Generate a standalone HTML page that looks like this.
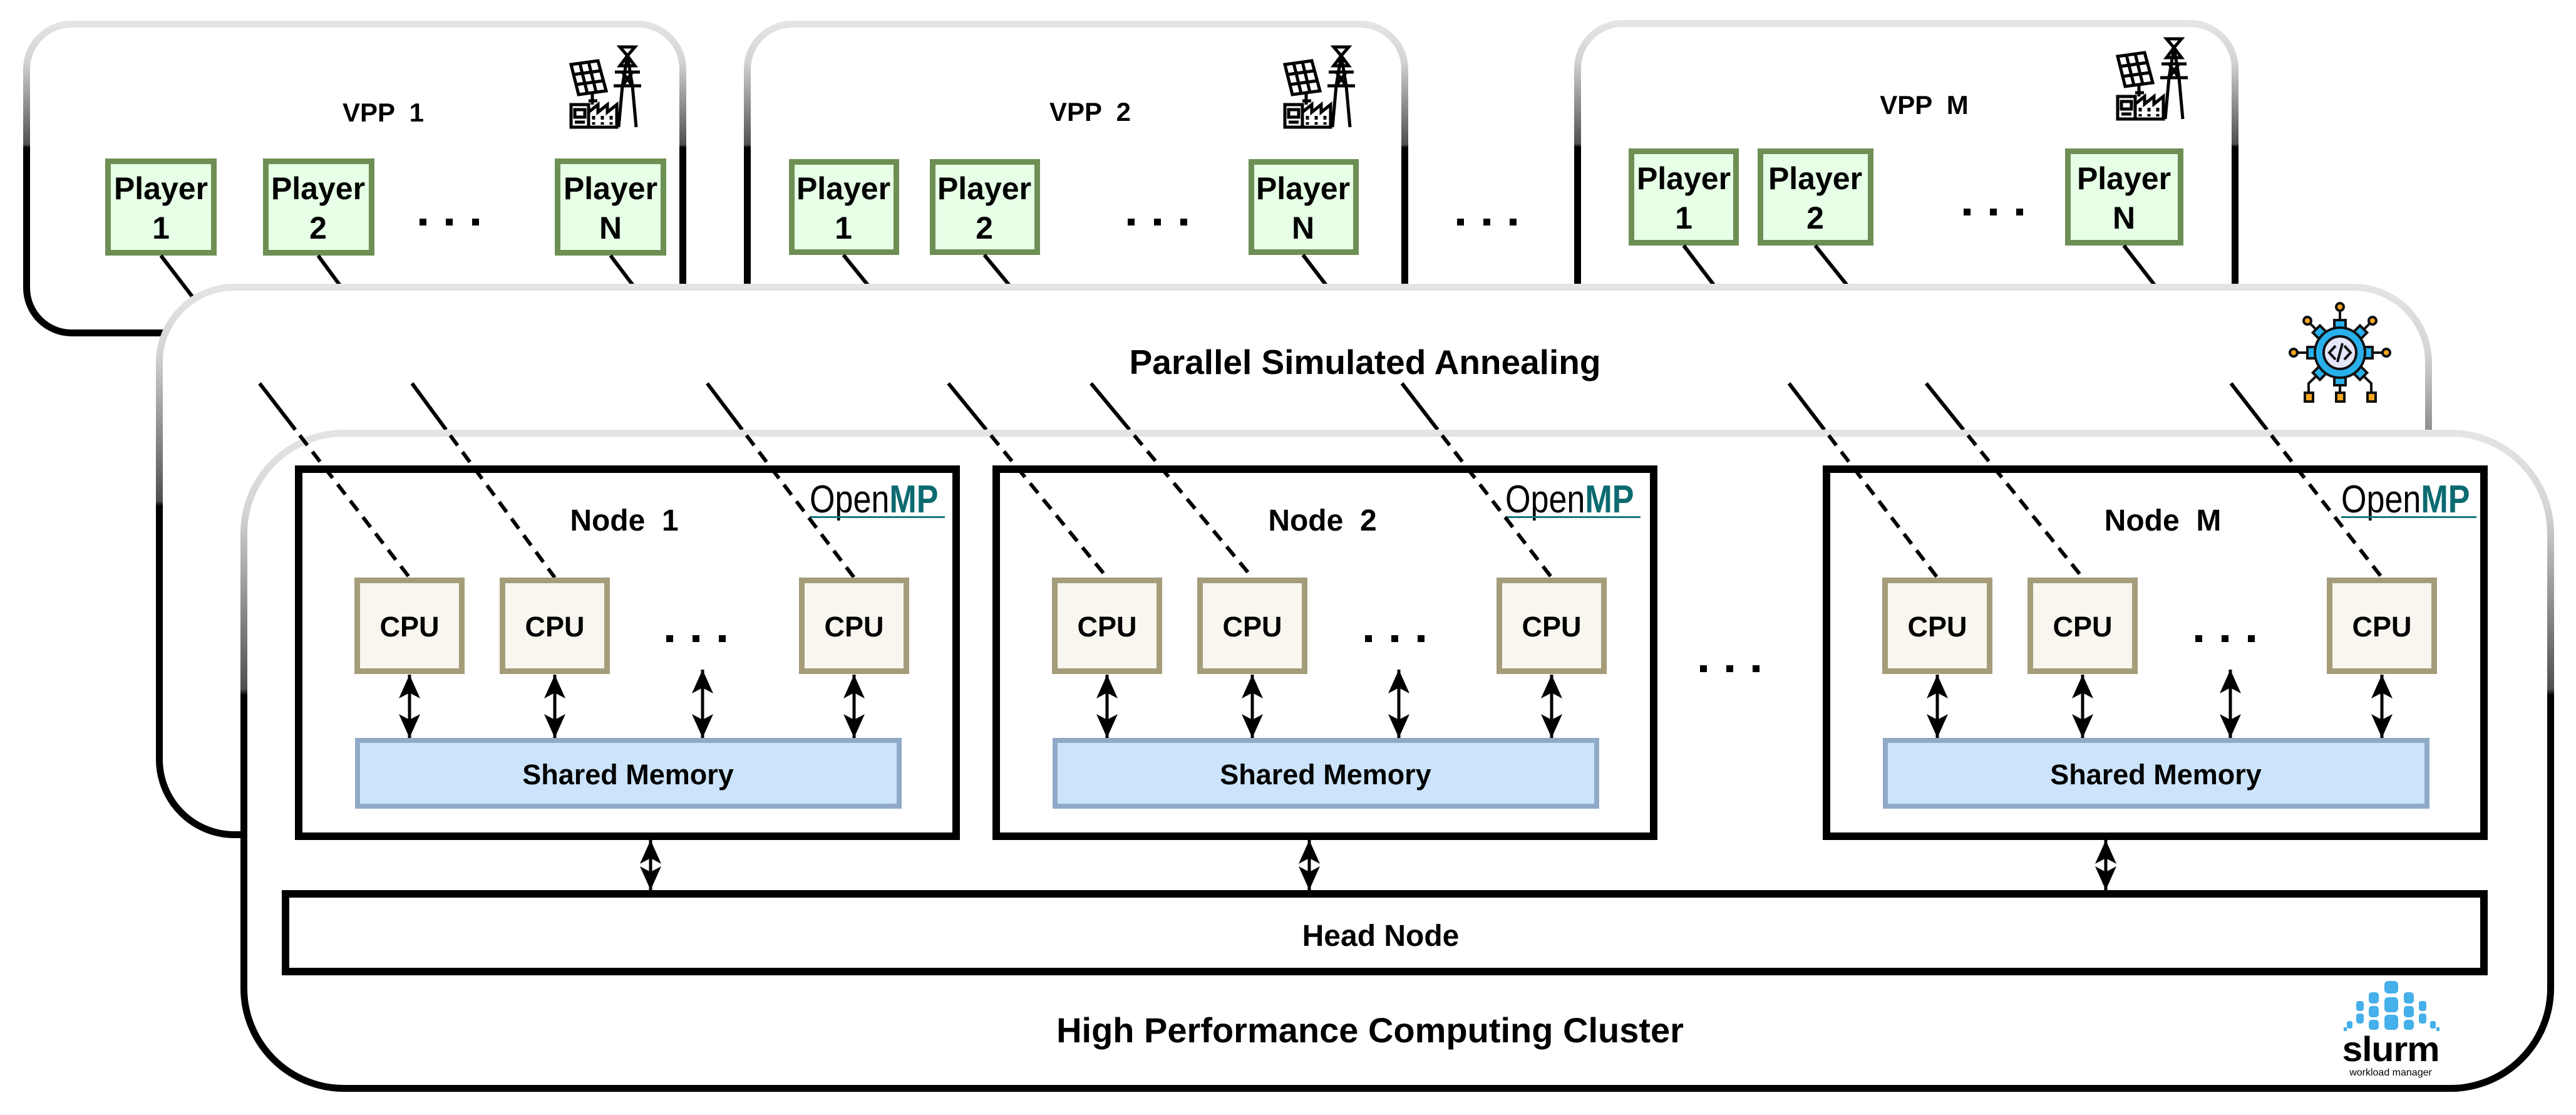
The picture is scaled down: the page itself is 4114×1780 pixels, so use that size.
<!DOCTYPE html>
<html><head><meta charset="utf-8"><style>
html,body{margin:0;padding:0;background:#fff;}
svg{display:block;}
text{font-family:"Liberation Sans",Arial,sans-serif;font-weight:bold;fill:#000;}
</style></head><body>
<svg width="4114" height="1780" viewBox="0 0 4114 1780" xmlns="http://www.w3.org/2000/svg">
<defs>
<linearGradient id="g" x1="0" y1="0" x2="0" y2="1">
<stop offset="0" stop-color="#e4e4e4"/><stop offset="0.12" stop-color="#d4d4d4"/>
<stop offset="0.39" stop-color="#505050"/><stop offset="0.40" stop-color="#000"/><stop offset="1" stop-color="#000"/>
</linearGradient>
<marker id="ah" viewBox="0 0 38 34" refX="38" refY="17" markerWidth="38" markerHeight="34" markerUnits="userSpaceOnUse" orient="auto-start-reverse">
<path d="M0,0 L38,17 L0,34 L9,17 Z" fill="#000"/>
</marker>
<g id="vicon" fill="none" stroke="#000" stroke-width="5">
<path d="M2,28 L45,22 L58,70 L14,76 Z M6,44 L49,38 M10,60 L53,54 M16,26 L28,74 M30,24 L42,72"/>
<path d="M36,72 L36,92 M30,86 L44,86"/>
<path d="M2,92 L30,92 L30,128 L2,128 Z M30,128 L30,104 L45,92 L45,104 L60,92 L60,104 L75,92 L75,128 L2,128 M8,100 L24,100 L24,112 L8,112 Z M8,120 L24,120" />
<path d="M38,110 L38,116 M52,110 L52,116 M66,110 L66,116 M38,120 L38,124 M52,120 L52,124 M66,120 L66,124"/>
<path d="M80,0 L104,0 L92,14 Z M92,14 L80,30 L104,30 Z M72,40 L112,40 M70,62 L114,62 M92,14 L84,62 L78,128 M92,14 L100,62 L106,128 M84,62 L100,40 M100,62 L84,40"/>
</g>
</defs>

<!-- VPP boxes -->
<rect x="42.5" y="38.5" width="1048" height="493" rx="72" fill="#fff" stroke="url(#g)" stroke-width="11"/>
<rect x="1193.5" y="38.5" width="1050" height="493" rx="72" fill="#fff" stroke="url(#g)" stroke-width="11"/>
<rect x="2519.5" y="37.5" width="1050" height="493" rx="72" fill="#fff" stroke="url(#g)" stroke-width="11"/>

<g font-size="42" text-anchor="middle">
<text x="612" y="194" xml:space="preserve">VPP  1</text>
<text x="1741" y="193" xml:space="preserve">VPP  2</text>
<text x="3073" y="182" xml:space="preserve">VPP  M</text>
</g>

<use href="#vicon" transform="translate(910,75)"/>
<use href="#vicon" transform="translate(2050,75)"/>
<use href="#vicon" transform="translate(3380,62)"/>

<!-- players -->
<g fill="#e6ffe6" stroke="#6d8f53" stroke-width="9">
<rect x="172.5" y="257.5" width="169" height="146"/>
<rect x="424.5" y="257.5" width="169" height="146"/>
<rect x="890.5" y="257.5" width="169" height="146"/>
<rect x="1264.5" y="258.5" width="167" height="144"/>
<rect x="1489.5" y="258.5" width="167" height="144"/>
<rect x="1998.5" y="258.5" width="167" height="144"/>
<rect x="2605.5" y="241.5" width="167" height="146"/>
<rect x="2811.5" y="241.5" width="176" height="146"/>
<rect x="3302.5" y="241.5" width="180" height="146"/>
</g>
<g font-size="50" text-anchor="middle">
<text x="257" y="318">Player</text><text x="257" y="381">1</text>
<text x="508" y="318">Player</text><text x="508" y="381">2</text>
<text x="975" y="318">Player</text><text x="975" y="381">N</text>
<text x="1347" y="318">Player</text><text x="1347" y="381">1</text>
<text x="1572" y="318">Player</text><text x="1572" y="381">2</text>
<text x="2081" y="318">Player</text><text x="2081" y="381">N</text>
<text x="2689" y="302">Player</text><text x="2689" y="365">1</text>
<text x="2899" y="302">Player</text><text x="2899" y="365">2</text>
<text x="3392" y="302">Player</text><text x="3392" y="365">N</text>
</g>
<!-- dots -->
<g fill="#000">
<rect x="670" y="349" width="11" height="11"/><rect x="712" y="349" width="11" height="11"/><rect x="754" y="349" width="11" height="11"/>
<rect x="1801" y="349" width="11" height="11"/><rect x="1843" y="349" width="11" height="11"/><rect x="1885" y="349" width="11" height="11"/>
<rect x="2327" y="349" width="11" height="11"/><rect x="2369" y="349" width="11" height="11"/><rect x="2411" y="349" width="11" height="11"/>
<rect x="3136" y="333" width="11" height="11"/><rect x="3178" y="333" width="11" height="11"/><rect x="3220" y="333" width="11" height="11"/>
</g>

<!-- line segments near players -->
<g stroke="#000" stroke-width="6">
<line x1="257" y1="408" x2="358" y2="540"/>
<line x1="508" y1="408" x2="605" y2="540"/>
<line x1="975" y1="408" x2="1075" y2="540"/>
<line x1="1347" y1="407" x2="1455" y2="540"/>
<line x1="1572" y1="407" x2="1682" y2="540"/>
<line x1="2081" y1="407" x2="2183" y2="540"/>
<line x1="2689" y1="392" x2="2802" y2="540"/>
<line x1="2899" y1="392" x2="3018" y2="540"/>
<line x1="3392" y1="392" x2="3507" y2="540"/>
</g>

<!-- PSA box -->
<rect x="254.5" y="458.5" width="3624" height="874" rx="120" fill="#fff" stroke="url(#g)" stroke-width="11"/>
<text x="2180" y="597" font-size="55" text-anchor="middle">Parallel Simulated Annealing</text>

<!-- gear icon -->
<g stroke="#111" stroke-width="4">
<line x1="3737" y1="490" x2="3737" y2="520"/>
<line x1="3685" y1="512" x2="3708" y2="535"/>
<line x1="3789" y1="512" x2="3766" y2="535"/>
<line x1="3663" y1="563" x2="3690" y2="563"/>
<line x1="3811" y1="563" x2="3784" y2="563"/>
<polyline fill="none" points="3708,592 3687,612 3687,630"/>
<polyline fill="none" points="3766,592 3787,612 3787,630"/>
<line x1="3737" y1="605" x2="3737" y2="630"/>
<g fill="#f5a623">
<circle cx="3737" cy="490" r="6"/><circle cx="3685" cy="512" r="6"/><circle cx="3789" cy="512" r="6"/>
<circle cx="3663" cy="563" r="6"/><circle cx="3811" cy="563" r="6"/>
<rect x="3681" y="627" width="13" height="14"/><rect x="3731" y="627" width="13" height="14"/><rect x="3781" y="627" width="13" height="14"/>
</g>
<g fill="#29b0ec">
<rect x="3728" y="511" width="18" height="16"/><rect x="3728" y="599" width="18" height="16"/>
<rect x="3685" y="554" width="16" height="18"/><rect x="3773" y="554" width="16" height="18"/>
<rect x="3697" y="523" width="16" height="16" transform="rotate(45 3705 531)"/>
<rect x="3761" y="523" width="16" height="16" transform="rotate(45 3769 531)"/>
<rect x="3697" y="587" width="16" height="16" transform="rotate(45 3705 595)"/>
<rect x="3761" y="587" width="16" height="16" transform="rotate(45 3769 595)"/>
<circle cx="3737" cy="563" r="40"/>
</g>
<circle cx="3737" cy="563" r="26" fill="#e6e6fa"/>
<path d="M3730,552 L3720,563 L3730,574 M3744,552 L3754,563 L3744,574 M3741,548 L3733,578" fill="none" stroke-width="4"/>
</g>

<!-- PSA line segments -->
<g stroke="#000" stroke-width="6">
<line x1="414.6" y1="612" x2="471.7" y2="686"/>
<line x1="658" y1="612" x2="712.4" y2="686"/>
<line x1="1129.4" y1="612" x2="1185.4" y2="686"/>
<line x1="1514.6" y1="612" x2="1575.1" y2="686"/>
<line x1="1742.4" y1="612" x2="1803.9" y2="686"/>
<line x1="2239" y1="612" x2="2296.1" y2="686"/>
<line x1="2857.1" y1="612" x2="2913.6" y2="686"/>
<line x1="3076.2" y1="612" x2="3135.8" y2="686"/>
<line x1="3563" y1="612" x2="3620.5" y2="686"/>
</g>

<!-- HPC box -->
<rect x="389.5" y="691.5" width="3684" height="1046" rx="160" fill="#fff" stroke="url(#g)" stroke-width="11"/>
<text x="2188" y="1664" font-size="56" text-anchor="middle">High Performance Computing Cluster</text>

<!-- Nodes -->
<g fill="none" stroke="#000" stroke-width="12">
<rect x="477" y="749" width="1050" height="586"/>
<rect x="1591" y="749" width="1050" height="586"/>
<rect x="2917" y="749" width="1050" height="586"/>
<rect x="456" y="1427" width="3511" height="124"/>
</g>
<g font-size="48" text-anchor="middle">
<text x="997" y="847" xml:space="preserve">Node  1</text>
<text x="2112" y="847" xml:space="preserve">Node  2</text>
<text x="3454" y="847" xml:space="preserve">Node  M</text>
<text x="2205" y="1510">Head Node</text>
</g>

<!-- OpenMP logos -->
<g fill="#14787f">
<text transform="translate(1293,818) scale(.84,1)" font-size="62" style="font-weight:normal"><tspan>Open</tspan><tspan style="font-weight:bold" fill="#0c6b71">MP</tspan></text>
<text transform="translate(2404,818) scale(.84,1)" font-size="62" style="font-weight:normal"><tspan>Open</tspan><tspan style="font-weight:bold" fill="#0c6b71">MP</tspan></text>
<text transform="translate(3739,818) scale(.84,1)" font-size="62" style="font-weight:normal"><tspan>Open</tspan><tspan style="font-weight:bold" fill="#0c6b71">MP</tspan></text>
<rect x="1293" y="824" width="216" height="3"/><rect x="2404" y="824" width="216" height="3"/><rect x="3739" y="824" width="216" height="3"/>
</g>

<!-- dashed segments -->
<g stroke="#000" stroke-width="6" stroke-dasharray="20 13">
<line x1="478.7" y1="695" x2="654" y2="922"/>
<line x1="719" y1="695" x2="886" y2="922"/>
<line x1="1192.2" y1="695" x2="1364" y2="922"/>
<line x1="1582.5" y1="695" x2="1768" y2="922"/>
<line x1="1811.4" y1="695" x2="2000" y2="922"/>
<line x1="2303" y1="695" x2="2478" y2="922"/>
<line x1="2920.5" y1="695" x2="3094" y2="922"/>
<line x1="3143" y1="695" x2="3326" y2="922"/>
<line x1="3627.5" y1="695" x2="3804" y2="922"/>
</g>

<!-- CPUs -->
<g fill="#f8f6ee" stroke="#a59c7a" stroke-width="9">
<rect x="570.5" y="926.5" width="167" height="145"/><rect x="802.5" y="926.5" width="167" height="145"/><rect x="1280.5" y="926.5" width="167" height="145"/>
<rect x="1684.5" y="926.5" width="167" height="145"/><rect x="1916.5" y="926.5" width="167" height="145"/><rect x="2394.5" y="926.5" width="167" height="145"/>
<rect x="3010.5" y="926.5" width="167" height="145"/><rect x="3242.5" y="926.5" width="167" height="145"/><rect x="3720.5" y="926.5" width="167" height="145"/>
</g>
<g font-size="45" text-anchor="middle">
<text x="654" y="1016">CPU</text><text x="886" y="1016">CPU</text><text x="1364" y="1016">CPU</text>
<text x="1768" y="1016">CPU</text><text x="2000" y="1016">CPU</text><text x="2478" y="1016">CPU</text>
<text x="3094" y="1016">CPU</text><text x="3326" y="1016">CPU</text><text x="3804" y="1016">CPU</text>
</g>
<g fill="#000">
<rect x="1064" y="1014" width="11" height="11"/><rect x="1106" y="1014" width="11" height="11"/><rect x="1148" y="1014" width="11" height="11"/>
<rect x="2180" y="1014" width="11" height="11"/><rect x="2222" y="1014" width="11" height="11"/><rect x="2264" y="1014" width="11" height="11"/>
<rect x="3506" y="1014" width="11" height="11"/><rect x="3548" y="1014" width="11" height="11"/><rect x="3590" y="1014" width="11" height="11"/>
<rect x="2715" y="1062" width="11" height="11"/><rect x="2757" y="1062" width="11" height="11"/><rect x="2799" y="1062" width="11" height="11"/>
</g>

<!-- Shared memory -->
<g fill="#cce4fb" stroke="#90a9c7" stroke-width="8">
<rect x="571" y="1182" width="865" height="105"/>
<rect x="1685" y="1182" width="865" height="105"/>
<rect x="3011" y="1182" width="865" height="105"/>
</g>
<g font-size="45" text-anchor="middle">
<text x="1003" y="1252">Shared Memory</text>
<text x="2117" y="1252">Shared Memory</text>
<text x="3443" y="1252">Shared Memory</text>
</g>

<!-- arrows -->
<g stroke="#000" stroke-width="5" marker-start="url(#ah)" marker-end="url(#ah)">
<line x1="654" y1="1077" x2="654" y2="1178"/><line x1="886" y1="1077" x2="886" y2="1178"/><line x1="1122" y1="1069" x2="1122" y2="1178"/><line x1="1364" y1="1077" x2="1364" y2="1178"/>
<line x1="1768" y1="1077" x2="1768" y2="1178"/><line x1="2000" y1="1077" x2="2000" y2="1178"/><line x1="2234" y1="1069" x2="2234" y2="1178"/><line x1="2478" y1="1077" x2="2478" y2="1178"/>
<line x1="3094" y1="1077" x2="3094" y2="1178"/><line x1="3326" y1="1077" x2="3326" y2="1178"/><line x1="3562" y1="1069" x2="3562" y2="1178"/><line x1="3804" y1="1077" x2="3804" y2="1178"/>
<line x1="1039" y1="1341" x2="1039" y2="1421"/><line x1="2091" y1="1341" x2="2091" y2="1421"/><line x1="3363" y1="1341" x2="3363" y2="1421"/>
</g>

<!-- slurm logo -->
<g fill="#45b0ea">
<rect x="3808" y="1566" width="22" height="20" rx="6"/>
<rect x="3783" y="1584" width="16" height="18" rx="5"/><rect x="3808" y="1592" width="22" height="24" rx="6"/><rect x="3839" y="1584" width="16" height="18" rx="5"/>
<rect x="3763" y="1598" width="12" height="16" rx="4"/><rect x="3783" y="1606" width="16" height="18" rx="5"/><rect x="3839" y="1606" width="16" height="18" rx="5"/><rect x="3863" y="1598" width="12" height="16" rx="4"/>
<rect x="3763" y="1618" width="12" height="16" rx="4"/><rect x="3783" y="1628" width="16" height="16" rx="5"/><rect x="3808" y="1620" width="22" height="24" rx="6"/><rect x="3839" y="1628" width="16" height="16" rx="5"/><rect x="3863" y="1618" width="12" height="16" rx="4"/>
<rect x="3748" y="1630" width="9" height="12" rx="3"/><rect x="3881" y="1630" width="9" height="12" rx="3"/>
<rect x="3743" y="1640" width="5" height="6"/><rect x="3891" y="1640" width="5" height="6"/>
</g>
<text transform="translate(3818,1694) scale(1.05,1)" font-size="56" text-anchor="middle" style="letter-spacing:-1px">slurm</text>
<text x="3818" y="1717" font-size="16" text-anchor="middle" style="font-weight:normal">workload manager</text>
</svg>
</body></html>
